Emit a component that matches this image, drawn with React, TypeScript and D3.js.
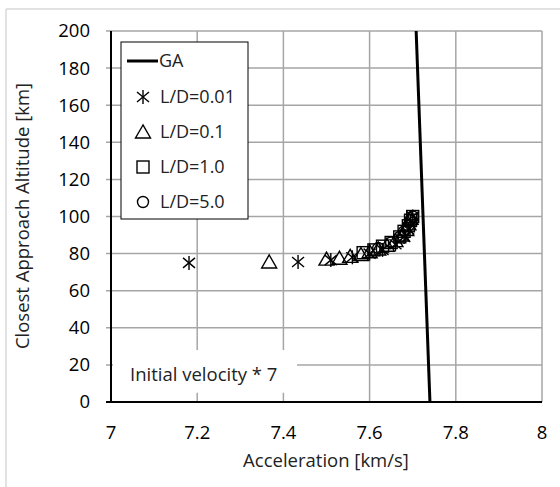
import * as d3 from "d3";

const WIDTH = 560;
const HEIGHT = 487;
const MARGIN = { top: 31, right: 18, bottom: 85, left: 111 };

// x ticks and y ticks as printed on the axes
const X_TICKS = [7, 7.2, 7.4, 7.6, 7.8, 8];
const Y_TICKS = [0, 20, 40, 60, 80, 100, 120, 140, 160, 180, 200];

// GA line (acceleration, altitude)
const gaX = [7.74, 7.704];
const gaY = [0, 225];

// L/D = 0.01 (asterisk)
const ld001X = [7.181, 7.434, 7.51, 7.56, 7.6, 7.63, 7.66, 7.68, 7.69, 7.695, 7.7];
const ld001Y = [75, 75.5, 76.5, 78, 80, 82, 85, 89, 93, 97, 100];

// L/D = 0.1 (triangle)
const ld01X = [7.367, 7.5, 7.53, 7.555, 7.58, 7.6, 7.62, 7.64, 7.66, 7.675, 7.685, 7.69, 7.695];
const ld01Y = [75.5, 77, 77.5, 78.5, 79.5, 81, 82.5, 84.5, 87, 90, 93, 96, 99];

// L/D = 1.0 (square)
const ld1X = [7.585, 7.61, 7.63, 7.65, 7.67, 7.68, 7.69, 7.695, 7.7];
const ld1Y = [80.5, 82, 84, 86, 89, 92, 95, 98, 100];

// L/D = 5.0 (circle)
const ld5X = [7.62, 7.65, 7.67, 7.68, 7.69, 7.695, 7.7];
const ld5Y = [83, 86, 89, 92, 95, 98, 100];

const LEGEND = ["GA", "L/D=0.01", "L/D=0.1", "L/D=1.0", "L/D=5.0"];

const FONT = "'Open Sans', 'Noto Sans', sans-serif";

function Marker({ kind, x, y }: { kind: string; x: number; y: number }) {
  if (kind === "asterisk") {
    return (
      <g stroke="#000" strokeWidth={1.4}>
        <line x1={x} y1={y - 7} x2={x} y2={y + 7} />
        <line x1={x - 6} y1={y - 5} x2={x + 6} y2={y + 5} />
        <line x1={x - 6} y1={y + 5} x2={x + 6} y2={y - 5} />
      </g>
    );
  }
  if (kind === "triangle") {
    return (
      <polygon
        points={`${x},${y - 7} ${x - 7.5},${y + 6} ${x + 7.5},${y + 6}`}
        fill="none"
        stroke="#000"
        strokeWidth={1.4}
      />
    );
  }
  if (kind === "square") {
    const s = 6;
    return <rect x={x - s} y={y - s} width={s * 2} height={s * 2} fill="none" stroke="#000" strokeWidth={1.4} />;
  }
  return <circle cx={x} cy={y} r={5.5} fill="none" stroke="#000" strokeWidth={1.4} />;
}

export default function App() {
  const boundsWidth = WIDTH - MARGIN.left - MARGIN.right;
  const boundsHeight = HEIGHT - MARGIN.top - MARGIN.bottom;

  const xScale = d3.scaleLinear().domain([7, 8]).range([0, boundsWidth]);
  const yScale = d3.scaleLinear().domain([0, 200]).range([boundsHeight, 0]);

  const series = [
    { kind: "asterisk", xs: ld001X, ys: ld001Y },
    { kind: "triangle", xs: ld01X, ys: ld01Y },
    { kind: "square", xs: ld1X, ys: ld1Y },
    { kind: "circle", xs: ld5X, ys: ld5Y },
  ];

  const gaLine = d3
    .line<number>()
    .x((_, i) => xScale(gaX[i]))
    .y((d) => yScale(d))(gaY);

  return (
    <svg
      width={WIDTH}
      height={HEIGHT}
      style={{ position: "absolute", left: 0, top: 0, background: "#fff" }}
      fontFamily={FONT}
    >
      {/* chart frame */}
      <line x1={6} x2={WIDTH} y1={9} y2={9} stroke="#d9d9d9" strokeWidth={1.5} />
      <line x1={6} x2={6} y1={9} y2={HEIGHT} stroke="#d9d9d9" strokeWidth={1.5} />

      <defs>
        <clipPath id="plot">
          <rect x={0} y={0} width={boundsWidth} height={boundsHeight} />
        </clipPath>
      </defs>

      <g transform={`translate(${MARGIN.left},${MARGIN.top})`}>
        {/* grid */}
        {Y_TICKS.filter((v) => v > 0).map((v) => (
          <line key={`gy${v}`} x1={-5} x2={boundsWidth} y1={yScale(v)} y2={yScale(v)} stroke="#a6a6a6" strokeWidth={1.5} />
        ))}
        {X_TICKS.filter((v) => v > 7).map((v) => (
          <line key={`gx${v}`} x1={xScale(v)} x2={xScale(v)} y1={0} y2={boundsHeight} stroke="#a6a6a6" strokeWidth={1.5} />
        ))}

        {/* annotation background */}
        <rect x={2} y={yScale(28)} width={184} height={yScale(5) - yScale(28)} fill="#fff" />
        <text x={19} y={yScale(15)} dy="0.35em" fontSize={18.5} fill="#222">
          Initial velocity * 7
        </text>

        {/* axes */}
        <line x1={0} x2={0} y1={0} y2={boundsHeight + 1} stroke="#000" strokeWidth={2} />
        <line x1={-5} x2={boundsWidth} y1={boundsHeight} y2={boundsHeight} stroke="#000" strokeWidth={2} />

        {/* tick labels */}
        {Y_TICKS.map((v) => (
          <text key={`ty${v}`} x={-21} y={yScale(v)} dy="0.35em" textAnchor="end" fontSize={18.5} fill="#000">
            {v}
          </text>
        ))}
        {X_TICKS.map((v) => (
          <text key={`tx${v}`} x={xScale(v)} y={boundsHeight + 37} textAnchor="middle" fontSize={18.5} fill="#000">
            {v}
          </text>
        ))}

        {/* data */}
        <g clipPath="url(#plot)">
          <path d={gaLine ?? ""} fill="none" stroke="#000" strokeWidth={3} />
          {series.map((s) =>
            s.xs.map((xv, i) => <Marker key={`${s.kind}${i}`} kind={s.kind} x={xScale(xv)} y={yScale(s.ys[i])} />)
          )}
        </g>

        {/* legend */}
        <g transform="translate(10,11)">
          <rect x={0} y={0} width={127} height={177} fill="#fff" stroke="#000" strokeWidth={1} />
          <line x1={6} x2={37} y1={19} y2={19} stroke="#000" strokeWidth={3} />
          <text x={38} y={19} dy="0.35em" fontSize={18} fill="#222">
            {LEGEND[0]}
          </text>
          {series.map((s, i) => (
            <g key={s.kind}>
              <Marker kind={s.kind} x={22} y={55 + i * 35} />
              <text x={39} y={55 + i * 35} dy="0.35em" fontSize={18} fill="#222">
                {LEGEND[i + 1]}
              </text>
            </g>
          ))}
        </g>
      </g>

      {/* axis titles */}
      <text x={326} y={467} textAnchor="middle" fontSize={18.5} fill="#222">
        Acceleration [km/s]
      </text>
      <text transform="translate(29,216) rotate(-90)" textAnchor="middle" fontSize={18.5} fill="#222">
        Closest Approach Altitude [km]
      </text>
    </svg>
  );
}
